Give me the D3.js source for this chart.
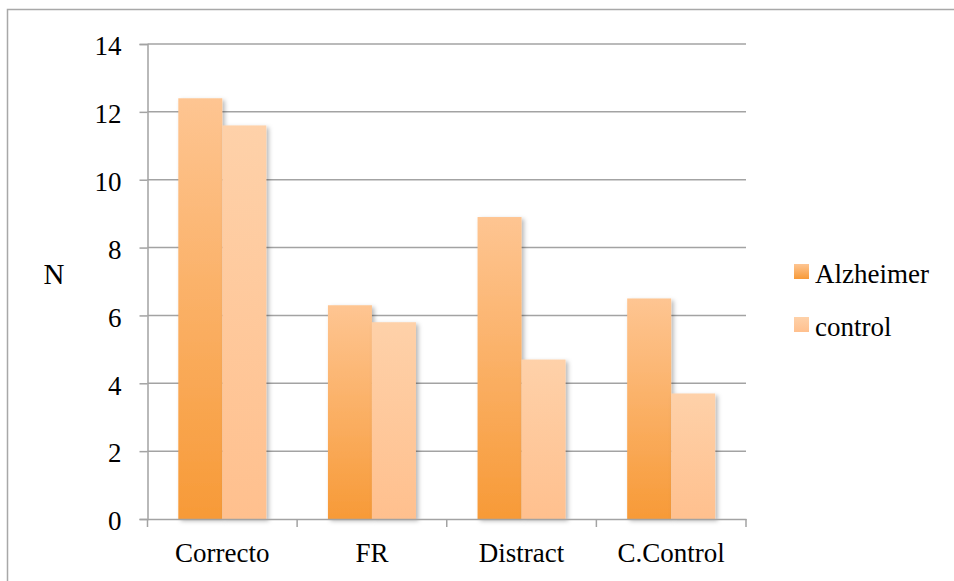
<!DOCTYPE html>
<html>
<head>
<meta charset="utf-8">
<script src="https://cdn.jsdelivr.net/npm/d3@7"></script>
<style>
  html, body { margin: 0; padding: 0; background: #fff; }
  svg { display: block; }
  svg text { font-family: "Liberation Serif", "Tinos", "DejaVu Serif", serif !important; fill: #000; }
</style>
</head>
<body>
<svg id="chart" width="954" height="581"></svg>
<script>
// Chart data
const categories = ["Correcto", "FR", "Distract", "C.Control"];
const seriesNames = ["Alzheimer", "control"];
const alzheimer = [12.4, 6.3, 8.9, 6.5];
const control = [11.6, 5.8, 4.7, 3.7];
const yTicks = [0, 2, 4, 6, 8, 10, 12, 14];

const series = [alzheimer, control];

const svg = d3.select("#chart");
const W = 954, H = 581;
const plot = { left: 147.5, right: 746, top: 44, bottom: 519 };
const gridColor = "#a3a3a3";

// Outer chart frame
svg.append("rect")
  .attr("x", 7.5).attr("y", 9.5)
  .attr("width", W + 20).attr("height", H + 20)
  .attr("fill", "#fff")
  .attr("stroke", "#a8a8a8").attr("stroke-width", 1.5);

const defs = svg.append("defs");

const gradStops = [
  [{ o: "0%", c: "#fec592" }, { o: "100%", c: "#f79a37" }],
  [{ o: "0%", c: "#fed1a9" }, { o: "100%", c: "#ffc08e" }]
];
gradStops.forEach((stops, i) => {
  const g = defs.append("linearGradient")
    .attr("id", "grad" + i)
    .attr("x1", 0).attr("y1", 0).attr("x2", 0).attr("y2", 1);
  stops.forEach(s => g.append("stop").attr("offset", s.o).attr("stop-color", s.c));
});

const shadow = defs.append("filter").attr("id", "shadow")
  .attr("x", "-20%").attr("y", "-5%").attr("width", "150%").attr("height", "120%");
shadow.append("feDropShadow")
  .attr("dx", 2.5).attr("dy", 2).attr("stdDeviation", 2.2)
  .attr("flood-color", "#000").attr("flood-opacity", 0.28);

// Scales
const x = d3.scaleBand().domain(categories).range([plot.left, plot.right]).paddingInner(0).paddingOuter(0);
const x1 = d3.scaleBand().domain(seriesNames).range([0, x.bandwidth()]).paddingInner(0).paddingOuter(0.7);
const y = d3.scaleLinear().domain([0, 14]).range([plot.bottom, plot.top]);

// Horizontal gridlines
svg.append("g").selectAll("line")
  .data(yTicks.filter(t => t > 0))
  .join("line")
  .attr("x1", plot.left).attr("x2", plot.right)
  .attr("y1", d => y(d)).attr("y2", d => y(d))
  .attr("stroke", gridColor).attr("stroke-width", 1.5);

// Y axis
const yAxis = d3.axisLeft(y).tickValues(yTicks).tickSize(8).tickPadding(18).tickFormat(d3.format("d"));
const gy = svg.append("g").attr("transform", `translate(${plot.left},0)`).call(yAxis);
gy.attr("font-family", null).attr("font-size", null);
gy.select(".domain").attr("stroke", gridColor).attr("stroke-width", 1.5);
gy.selectAll(".tick line").attr("stroke", gridColor).attr("stroke-width", 1.5);
gy.selectAll(".tick text")
  .attr("font-size", 27)
  .attr("fill", "#000").attr("dy", "0.4em");

// Bars
const groups = svg.append("g").selectAll("g")
  .data(categories)
  .join("g")
  .attr("transform", d => `translate(${x(d)},0)`);

groups.selectAll("rect")
  .data((d, i) => seriesNames.map((s, j) => ({ s, j, v: series[j][i] })))
  .join("rect")
  .attr("x", d => x1(d.s))
  .attr("width", x1.bandwidth())
  .attr("y", d => y(d.v))
  .attr("height", d => y(0) - y(d.v))
  .attr("fill", d => `url(#grad${d.j})`)
  .attr("filter", "url(#shadow)");

// X axis
const xAxis = d3.axisBottom(x).tickSize(0).tickPadding(0);
const gx = svg.append("g").attr("transform", `translate(0,${plot.bottom})`).call(xAxis);
gx.attr("font-family", null).attr("font-size", null);
gx.select(".domain").attr("stroke", gridColor).attr("stroke-width", 1.5);
gx.selectAll(".tick text")
  .attr("font-size", 27)
  .attr("fill", "#000").attr("y", 43).attr("dy", 0);

// Category boundary ticks
const bounds = categories.map(c => x(c)).concat([plot.right]);
gx.append("g").selectAll("line")
  .data(bounds)
  .join("line")
  .attr("x1", d => d).attr("x2", d => d)
  .attr("y1", 0).attr("y2", 8)
  .attr("stroke", gridColor).attr("stroke-width", 1.5);

// Y axis title
svg.append("text")
  .attr("x", 54).attr("y", 284)
  .attr("text-anchor", "middle")
  .attr("font-size", 29)
  .text("N");

// Legend
const legend = svg.append("g").selectAll("g")
  .data(seriesNames)
  .join("g")
  .attr("transform", (d, i) => `translate(794,${264 + i * 53})`);
legend.append("rect")
  .attr("width", 15).attr("height", 15)
  .attr("fill", (d, i) => `url(#grad${i})`);
legend.append("text")
  .attr("x", 21).attr("y", 19)
  .attr("font-size", 27)
  .text(d => d);
</script>
</body>
</html>
